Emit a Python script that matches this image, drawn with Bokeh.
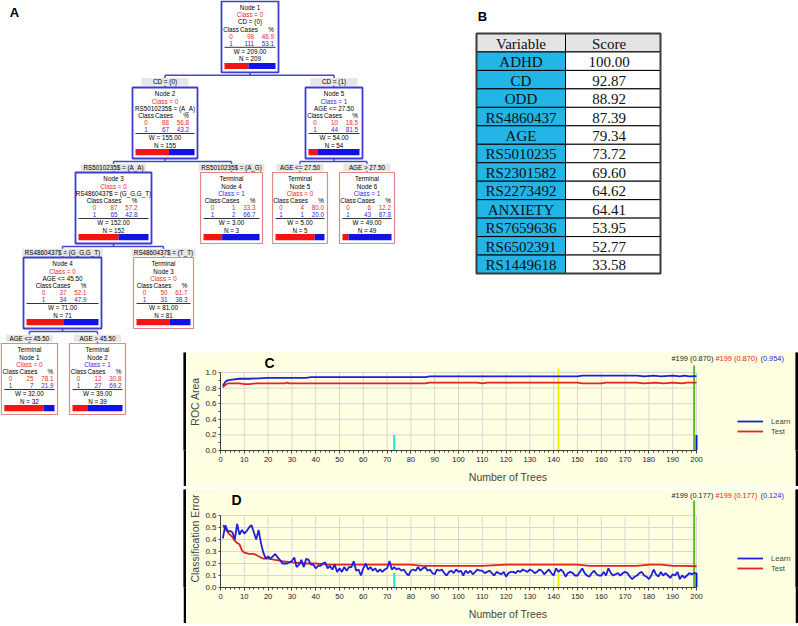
from bokeh.plotting import figure
from bokeh.layouts import column, row
from bokeh.models import Range1d, FixedTicker, PrintfTickFormatter, Legend, LegendItem, ColumnDataSource, Spacer
from bokeh.embed import file_html
from bokeh.resources import INLINE
from bokeh.core.properties import value

# ======================= DATA =======================
# Panel A : classification tree
node_ids = ["N1", "N2", "N5", "N3", "T4", "T5", "T6", "N4", "T3", "T1", "T2"]
node_terminal = [False, False, False, False, True, True, True, False, True, True, True]
node_names = ["Node 1", "Node 2", "Node 5", "Node 3", "Node 4", "Node 5", "Node 6",
              "Node 4", "Node 3", "Node 1", "Node 2"]
node_class = [0, 0, 1, 0, 1, 0, 1, 0, 0, 0, 1]
node_rule = ["CD = (0)", "RS5010235$ = (A_A)", "AGE <= 27.50", "RS4860437$ = (G_G,G_T)",
             "", "", "", "AGE <= 45.50", "", "", ""]
cases0 = [98, 88, 10, 87, 1, 4, 6, 37, 50, 25, 12]
cases1 = [111, 67, 44, 65, 2, 1, 43, 34, 31, 7, 27]
pct0 = [46.9, 56.8, 18.5, 57.2, 33.3, 80.0, 12.2, 52.1, 61.7, 78.1, 30.8]
pct1 = [53.1, 43.2, 81.5, 42.8, 66.7, 20.0, 87.8, 47.9, 38.3, 21.9, 69.2]
weights = [209.00, 155.00, 54.00, 152.00, 3.00, 5.00, 49.00, 71.00, 81.00, 32.00, 39.00]
counts = [209, 155, 54, 152, 3, 5, 49, 71, 81, 32, 39]
edge_parent = ["N1", "N1", "N2", "N2", "N5", "N5", "N3", "N3", "N4", "N4"]
edge_child = ["N2", "N5", "N3", "T4", "T5", "T6", "N4", "T3", "T1", "T2"]
edge_label = ["CD = (0)", "CD = (1)", "RS5010235$ = (A_A)", "RS5010235$ = (A_G)",
              "AGE <= 27.50", "AGE > 27.50", "RS4860437$ = (G_G,G_T)", "RS4860437$ = (T_T)",
              "AGE <= 45.50", "AGE > 45.50"]

# Panel B : variable importance
variables = ["ADHD", "CD", "ODD", "RS4860437", "AGE", "RS5010235", "RS2301582",
             "RS2273492", "ANXIETY", "RS7659636", "RS6502391", "RS1449618"]
scores = [100.00, 92.87, 88.92, 87.39, 79.34, 73.72, 69.60, 64.62, 64.41, 53.95, 52.77, 33.58]

# Panel C : ROC area vs number of trees
roc_learn_trees = [1, 2, 3, 5, 8, 12, 20, 36, 38, 86, 88, 120, 150, 152, 175, 178, 182, 185,
                   190, 193, 195, 197, 200]
roc_learn = [0.83, 0.88, 0.90, 0.91, 0.92, 0.92, 0.93, 0.93, 0.94, 0.94, 0.95, 0.95, 0.95,
             0.96, 0.96, 0.95, 0.96, 0.95, 0.96, 0.95, 0.96, 0.95, 0.954]
roc_test_trees = [1, 2, 3, 5, 8, 10, 12, 15, 20, 27, 28, 29, 50, 86, 88, 108, 110, 112, 150,
                  152, 155, 160, 162, 175, 178, 183, 186, 190, 194, 196, 200]
roc_test = [0.81, 0.84, 0.86, 0.86, 0.86, 0.85, 0.85, 0.86, 0.86, 0.86, 0.87, 0.86, 0.86,
            0.86, 0.87, 0.87, 0.86, 0.87, 0.87, 0.86, 0.86, 0.86, 0.87, 0.87, 0.86, 0.87,
            0.86, 0.87, 0.86, 0.87, 0.87]

# Panel D : classification error vs number of trees (Learn: trees 1..200)
err_learn = [
    0.41, 0.52, 0.47, 0.47, 0.46, 0.40, 0.53, 0.44, 0.48, 0.45, 0.47, 0.50, 0.52, 0.46, 0.40,
    0.48, 0.37, 0.29, 0.24, 0.26, 0.24, 0.26, 0.28, 0.25, 0.23, 0.20, 0.20, 0.20, 0.21, 0.22,
    0.25, 0.17, 0.19, 0.23, 0.17, 0.24, 0.23, 0.19, 0.19, 0.16, 0.18, 0.18, 0.20, 0.21, 0.16,
    0.18, 0.15, 0.19, 0.13, 0.16, 0.13, 0.17, 0.14, 0.17, 0.17, 0.22, 0.14, 0.15, 0.10, 0.16,
    0.20, 0.15, 0.17, 0.14, 0.16, 0.13, 0.15, 0.13, 0.15, 0.16, 0.22, 0.15, 0.17, 0.15, 0.16,
    0.14, 0.15, 0.12, 0.10, 0.14, 0.15, 0.14, 0.17, 0.14, 0.16, 0.17, 0.14, 0.15, 0.12, 0.11,
    0.15, 0.14, 0.15, 0.12, 0.10, 0.13, 0.14, 0.12, 0.15, 0.13, 0.14, 0.10, 0.14, 0.12, 0.14,
    0.11, 0.13, 0.15, 0.14, 0.14, 0.12, 0.13, 0.14, 0.12, 0.10, 0.13, 0.12, 0.11, 0.13, 0.09,
    0.12, 0.13, 0.13, 0.12, 0.14, 0.13, 0.15, 0.14, 0.13, 0.15, 0.14, 0.12, 0.13, 0.15, 0.14,
    0.11, 0.13, 0.15, 0.12, 0.10, 0.16, 0.13, 0.15, 0.13, 0.09, 0.12, 0.13, 0.12, 0.10, 0.10,
    0.13, 0.16, 0.12, 0.10, 0.09, 0.12, 0.14, 0.11, 0.10, 0.10, 0.13, 0.10, 0.16, 0.12, 0.10,
    0.11, 0.12, 0.10, 0.12, 0.13, 0.12, 0.09, 0.07, 0.09, 0.10, 0.12, 0.13, 0.10, 0.09, 0.07,
    0.10, 0.15, 0.11, 0.09, 0.13, 0.10, 0.12, 0.10, 0.08, 0.11, 0.10, 0.13, 0.07, 0.10, 0.08,
    0.10, 0.12, 0.11, 0.12, 0.12]
err_learn_trees = list(range(1, len(err_learn) + 1))
err_test_trees = [1, 2, 3, 4, 5, 6, 7, 8, 9, 10, 12, 14, 16, 18, 20, 23, 26, 30, 35, 40, 45,
                  50, 60, 70, 80, 85, 90, 100, 110, 120, 130, 140, 150, 155, 160, 165, 170,
                  175, 180, 185, 190, 195, 200]
err_test = [0.52, 0.49, 0.46, 0.44, 0.42, 0.39, 0.37, 0.36, 0.31, 0.29, 0.28, 0.28, 0.26,
            0.24, 0.24, 0.23, 0.22, 0.21, 0.20, 0.20, 0.19, 0.19, 0.19, 0.19, 0.19, 0.18,
            0.18, 0.18, 0.18, 0.19, 0.19, 0.19, 0.19, 0.18, 0.18, 0.18, 0.18, 0.18, 0.19,
            0.19, 0.18, 0.18, 0.177]

tree_ticks = list(range(0, 201, 10))
tree_minor = list(range(0, 201, 2))
roc_ticks = [0.0, 0.2, 0.4, 0.6, 0.8, 1.0]
roc_minor = [0.1, 0.3, 0.5, 0.7, 0.9]
err_ticks = [0.0, 0.1, 0.2, 0.3, 0.4, 0.5, 0.6]
marker_trees = [73, 142, 199, 200]
roc_summary = ["#199 (0.870)", "#199 (0.870)", "(0.954)"]
err_summary = ["#199 (0.177)", "#199 (0.177)", "(0.124)"]
series_names = ["Learn", "Test"]

# ======================= STYLE / LAYOUT =======================
SANS = "Liberation Sans"
SERIF = "Liberation Serif"
RED_T = "#EC2A2A"
BLUE_T = "#2C2CE0"
SPLIT_LINE = "#3C3CCF"
TERM_LINE = "#E58484"
CONN = "#4646CC"
BG = "#FFFFE1"
GRID = "#D6D6D6"
CYAN = "#22B5E6"
HEAD = "#E4E4E4"
LEARN_C = "#1E1EDC"
TEST_C = "#E42222"

box_pos = {"N1": (221, 278, 0.8), "N2": (132, 197, 87), "N5": (305, 362, 87),
           "N3": (75, 151, 172), "T4": (200, 262, 172), "T5": (272, 327, 172),
           "T6": (339, 394, 172), "N4": (23, 101, 257), "T3": (133, 193, 257),
           "T1": (0.8, 57, 343), "T2": (69, 125, 343)}
BOX_H = 71

W_ALL, H_ALL = 798, 626
TOP_H = 334
BL_W = 183
BOT_H = H_ALL - TOP_H          # 292
BR_W = W_ALL - BL_W            # 615
GAP_H = 15
BAR = 3
C_H = 134
D_H = 134
CH_W = BR_W - 2 * BAR          # 609
LEFT_B = 34
BOTTOM_B = 36
CANVAS_X0 = BL_W + BAR         # 186, page x of the charts' canvases
FRAME_X0 = CANVAS_X0 + LEFT_B  # 220, page x of tree 0
X200 = 696                     # page x of tree 200

CW = {' ': .278, '=': .584, '(': .333, ')': .333, '_': .556, '$': .556, '.': .278, ',': .278,
      '<': .584, '>': .584, 'A': .667, 'C': .722, 'D': .722, 'E': .667, 'G': .778, 'R': .722,
      'S': .667, 'T': .611, 'N': .722}


def text_w(s, size):
    return sum(CW.get(ch, .556) for ch in s) * size


def add_text(p, xs, ys, texts, colors, size, align="center", font=SANS, style="normal"):
    src = ColumnDataSource(dict(x=xs, y=ys, t=texts, c=colors))
    p.text(x="x", y="y", text="t", text_color="c", source=src, text_font=value(font),
           text_font_size=size, text_align=align, text_baseline="middle",
           text_font_style=style)


def draw_tree(p, y_lo, y_hi):
    """Draw the part of the tree whose boxes / labels lie between y_lo and y_hi."""
    idx = {nid: i for i, nid in enumerate(node_ids)}
    fsz = "6.3px"
    xs0, ys0, xs1, ys1 = [], [], [], []
    for parent in dict.fromkeys(edge_parent):
        kids = [c for pa, c in zip(edge_parent, edge_child) if pa == parent]
        pl, pr, pt = box_pos[parent]
        pcx, pb = (pl + pr) / 2, pt + BOX_H
        yc = pb + 3
        kx = [(box_pos[k][0] + box_pos[k][1]) / 2 for k in kids]
        xs0 += [pcx, min(kx)]; ys0 += [pb, yc]; xs1 += [pcx, max(kx)]; ys1 += [yc, yc]
        for k, cx in zip(kids, kx):
            xs0.append(cx); ys0.append(yc); xs1.append(cx); ys1.append(box_pos[k][2])
    p.segment(x0=xs0, y0=ys0, x1=xs1, y1=ys1, line_color=CONN, line_width=1.5)
    lx, ly, lw, lt = [], [], [], []
    for pa, c, lab in zip(edge_parent, edge_child, edge_label):
        cl, cr, ct = box_pos[c]
        yc = box_pos[pa][2] + BOX_H + 3
        yy = (yc + ct) / 2 + 0.5
        if not (y_lo <= yy < y_hi):
            continue
        lx.append((cl + cr) / 2); ly.append(yy)
        lw.append(max(text_w(lab, 6.3) + 5, 47)); lt.append(lab)
    if lt:
        p.rect(x=lx, y=ly, width=lw, height=7.6, fill_color="#E6E6E6", line_color=None)
        add_text(p, lx, ly, lt, ["black"] * len(lt), fsz)
    cxs, cys, cts, ccs = [], [], [], []
    rxs, rys, rts, rcs = [], [], [], []
    sx0, sx1, sy = [], [], []
    bl, bm, br, bt, bb = [], [], [], [], []
    for nid in node_ids:
        i = idx[nid]
        l, r, t = box_pos[nid]
        if not (y_lo <= t < y_hi):
            continue
        b = t + BOX_H
        term = node_terminal[i]
        p.quad(left=l, right=r, top=t, bottom=b, fill_color="white",
               line_color=TERM_LINE if term else SPLIT_LINE, line_width=1.2 if term else 1.8)
        cx = (l + r) / 2
        ccol = RED_T if node_class[i] == 0 else BLUE_T
        if term:
            first = [("Terminal", "black"), (node_names[i], "black"),
                     ("Class = %d" % node_class[i], ccol)]
        else:
            first = [(node_names[i], "black"), ("Class = %d" % node_class[i], ccol),
                     (node_rule[i], "black")]
        for (txt, col), dy in zip(first, [6, 13.5, 20.5]):
            cxs.append(cx); cys.append(t + dy); cts.append(txt); ccs.append(col)
        for txt, dx in zip(["Class", "Cases", "%"], [-19, -1, 21]):
            cxs.append(cx + dx); cys.append(t + 27.8); cts.append(txt); ccs.append("black")
        for k, (cnt, pc, col, dy) in enumerate([(cases0[i], pct0[i], RED_T, 34.9),
                                                 (cases1[i], pct1[i], BLUE_T, 42.2)]):
            cxs.append(cx - 19); cys.append(t + dy); cts.append(str(k)); ccs.append(col)
            rxs += [cx + 4, cx + 24]; rys += [t + dy, t + dy]
            rts += [str(cnt), "%.1f" % pc]; rcs += [col, col]
        sx0.append(l + 3); sx1.append(r - 3); sy.append(t + 46)
        cxs += [cx, cx]; cys += [t + 50.2, t + 57.5]
        cts += ["W = %.2f" % weights[i], "N = %d" % counts[i]]; ccs += ["black", "black"]
        bl.append(l + 3); br.append(r - 3)
        bm.append(l + 3 + (r - l - 6) * pct0[i] / 100.0)
        bt.append(t + 61.6); bb.append(t + 67.8)
    add_text(p, cxs, cys, cts, ccs, fsz)
    add_text(p, rxs, rys, rts, rcs, fsz, align="right")
    p.segment(x0=sx0, y0=sy, x1=sx1, y1=sy, line_color="black", line_width=0.8)
    p.quad(left=bl, right=bm, top=bt, bottom=bb, fill_color="#F41414", line_color=None)
    p.quad(left=bm, right=br, top=bt, bottom=bb, fill_color="#1212E6", line_color=None)


def draw_table(p):
    xs = [476, 565, 660]
    n = len(variables) + 1
    y0, rh = 33, 240 / 13
    L, R, T, B, F = [], [], [], [], []
    for i in range(n):
        for j in range(2):
            L.append(xs[j]); R.append(xs[j + 1]); T.append(y0 + i * rh); B.append(y0 + (i + 1) * rh)
            F.append(HEAD if i == 0 else (CYAN if j == 0 else "white"))
    p.quad(left=L, right=R, top=T, bottom=B, fill_color=F, line_color="black", line_width=1)
    p.quad(left=xs[0], right=xs[2], top=y0, bottom=y0 + n * rh, fill_color=None,
           line_color="#3A3A3A", line_width=2)
    fsz = "15px"
    c0 = (xs[0] + xs[1]) / 2
    c1 = (xs[1] + xs[2]) / 2 - 4
    ys = [y0 + (i + 0.55) * rh for i in range(n)]
    add_text(p, [c0] * n, ys, ["Variable"] + variables, ["#101010"] * n, fsz, font=SERIF)
    add_text(p, [c1] * n, ys, ["Score"] + ["%.2f" % s for s in scores], ["#101010"] * n, fsz,
             font=SERIF)


def blank_fig(w, h, xr, yr, bg="white"):
    f = figure(width=w, height=h, x_range=xr, y_range=yr, output_backend="svg",
               toolbar_location=None, min_border=0, x_axis_location=None,
               y_axis_location=None, background_fill_color=bg, border_fill_color=bg,
               outline_line_color=None)
    f.grid.visible = False
    return f


top = blank_fig(W_ALL, TOP_H, Range1d(0, W_ALL), Range1d(TOP_H, 0))
draw_tree(top, -10, TOP_H)
draw_table(top)
add_text(top, [14, 482], [12, 16], ["A", "B"], ["black", "black"], "13px", style="bold")

bl = blank_fig(BL_W, BOT_H, Range1d(0, BL_W), Range1d(H_ALL, TOP_H))
draw_tree(bl, TOP_H, H_ALL)


def black_bar(w, h):
    f = blank_fig(w, h, Range1d(0, 1), Range1d(0, 1), bg="black")
    f.quad(left=[0], right=[1], top=[1], bottom=[0], fill_color="black", line_color=None)
    return f


PX_TREE = (X200 - FRAME_X0) / 200.0


def tx_page(xp):
    """page x -> tree-number units of the charts"""
    return (xp - FRAME_X0) / PX_TREE


def make_chart(h, ref_unit, y_ticks, y_minor, ylabel, lx, ly, tx, ty, mark_tops, summary,
               letter, letter_x, head_y, letter_y):
    fw = CH_W - LEFT_B
    fh = h - BOTTOM_B
    x_end = fw / PX_TREE
    y_end = fh / ref_unit
    p = figure(width=CH_W, height=h, x_range=Range1d(0, x_end), y_range=Range1d(0, y_end),
               output_backend="svg", toolbar_location=None, min_border=0,
               min_border_left=LEFT_B, min_border_bottom=BOTTOM_B, min_border_right=0,
               min_border_top=0, background_fill_color=BG, border_fill_color=BG,
               outline_line_color=None)
    p.grid.visible = False
    ytop = y_ticks[-1]
    p.segment(x0=tree_ticks[1:], y0=0, x1=tree_ticks[1:], y1=ytop, line_color=GRID, line_width=1)
    p.segment(x0=0, y0=y_ticks[1:], x1=200, y1=y_ticks[1:], line_color=GRID, line_width=1)
    mcols = ["#22E0E8", "#F2F200", "#5DBB2A", "#1414E6"]
    p.segment(x0=marker_trees, y0=0, x1=marker_trees, y1=mark_tops, line_color=mcols,
              line_width=2)
    r_test = p.line(tx, ty, line_color=TEST_C, line_width=1.8)
    r_learn = p.line(lx, ly, line_color=LEARN_C, line_width=1.8)
    xa, ya = p.xaxis[0], p.yaxis[0]
    xa.ticker = FixedTicker(ticks=tree_ticks, minor_ticks=tree_minor)
    xa.bounds = (0, 200)
    ya.ticker = FixedTicker(ticks=y_ticks, minor_ticks=y_minor)
    ya.bounds = (0, ytop)
    ya.formatter = PrintfTickFormatter(format="%.1f")
    for ax in (xa, ya):
        ax.axis_line_color = "#404040"
        ax.major_tick_line_color = "#404040"
        ax.minor_tick_line_color = "#404040"
        ax.major_tick_in = 0
        ax.minor_tick_in = 0
        ax.major_label_text_font = SANS
        ax.axis_label_text_font = SANS
        ax.axis_label_text_font_style = "normal"
        ax.major_label_text_color = "#202020"
    xa.major_tick_out = 3
    xa.minor_tick_out = 2
    xa.major_label_standoff = 3
    xa.major_label_text_font_size = "7.6px"
    xa.axis_label = "Number of Trees"
    xa.axis_label_text_font_size = "10.5px"
    xa.axis_label_standoff = 6
    ya.major_tick_out = 2
    ya.minor_tick_out = 2
    ya.major_label_standoff = 2
    ya.major_label_text_font_size = "8px"
    ya.axis_label = ylabel
    ya.axis_label_text_font_size = "10.5px"
    ya.axis_label_standoff = 1
    leg = Legend(items=[LegendItem(label=series_names[0], renderers=[r_learn]),
                        LegendItem(label=series_names[1], renderers=[r_test])],
                 location=(737 - FRAME_X0, 14), orientation="vertical", glyph_width=26,
                 glyph_height=10, label_height=10, label_standoff=8, spacing=0, padding=0,
                 margin=0, border_line_color=None, background_fill_alpha=0,
                 label_text_font=SANS, label_text_font_size="7.6px")
    p.add_layout(leg)
    hx = [tx_page(x) for x in (671, 715, 760)]
    add_text(p, hx, [head_y] * 3, summary, ["#202020", TEST_C, LEARN_C], "7.4px", align="left")
    add_text(p, [letter_x], [letter_y], [letter], ["black"], "14px", style="bold")
    return p


chart_c = make_chart(C_H, 78, roc_ticks, roc_minor, "ROC Area", roc_learn_trees, roc_learn,
                     roc_test_trees, roc_test, [0.2, 1.05, 1.09, 0.2], roc_summary, "C",
                     tx_page(269), (450 - 358) / 78, (450 - 362) / 78)
chart_d = make_chart(D_H, 120, err_ticks, [], "Classification Error", err_learn_trees,
                     err_learn, err_test_trees, err_test, [0.12, 0.12, 0.725, 0.12],
                     err_summary, "D", tx_page(236), (587 - 495) / 120,
                     (587 - 499) / 120)

br = column(
    Spacer(width=BR_W, height=GAP_H),
    black_bar(BR_W, BAR),
    row(black_bar(BAR, C_H), chart_c, black_bar(BAR, C_H)),
    black_bar(BR_W, BAR),
    row(black_bar(BAR, D_H), chart_d, black_bar(BAR, D_H)),
    black_bar(BR_W, BAR),
)
layout = column(top, row(bl, br))
open("out.html", "w").write(file_html(layout, INLINE))
